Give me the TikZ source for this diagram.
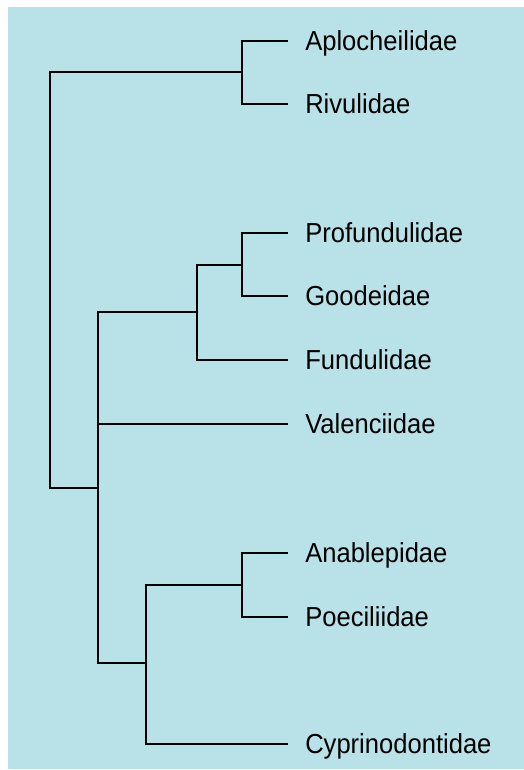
\documentclass[tikz,border=0pt]{standalone}
\usepackage{xcolor}
\usepackage{fontspec}
\setmainfont[FakeStretch=0.93]{Liberation Sans}
\definecolor{panelblue}{RGB}{184,226,231}
\usetikzlibrary{calc}

\begin{document}
\begin{tikzpicture}[x=1pt,y=-1pt,line width=2.5pt,line cap=rect,
    family/.style={anchor=west,inner xsep=17pt,inner ysep=0pt,text height=19.5pt,text depth=0pt,
      font=\fontsize{27.5}{30}\selectfont}]
    \useasboundingbox (0,0) rectangle (524,770);
    \fill[panelblue] (8,7) rectangle (524,769);

    \node[family] (aplocheilidae) at (287, 41) {Aplocheilidae};
    \node[family] (rivulidae) at (287, 104) {Rivulidae};
    \node[family] (profundulidae) at (287, 233) {Profundulidae};
    \node[family] (goodeidae) at (287, 296) {Goodeidae};
    \node[family] (fundulidae) at (287, 360) {Fundulidae};
    \node[family] (valenciidae) at (287, 424) {Valenciidae};
    \node[family] (anablepidae) at (287, 553) {Anablepidae};
    \node[family] (poeciliidae) at (287, 617) {Poeciliidae};
    \node[family] (cyprinodontidae) at (287, 744) {Cyprinodontidae};

    \coordinate (root) at (50, 280);
    \coordinate (aplo_rivu) at (242, 72);
    \coordinate (rest) at (98, 488);
    \coordinate (prof_good_fund) at (197, 312);
    \coordinate (prof_good) at (242, 265);
    \coordinate (anab_poec_cypr) at (146, 663);
    \coordinate (anab_poec) at (242, 585);

    \draw (root) |- (aplo_rivu);
    \draw (root) |- (rest);
    \draw (aplo_rivu) |- (aplocheilidae);
    \draw (aplo_rivu) |- (rivulidae);
    \draw (rest) |- (prof_good_fund);
    \draw (rest) |- (valenciidae);
    \draw (rest) |- (anab_poec_cypr);
    \draw (prof_good_fund) |- (prof_good);
    \draw (prof_good_fund) |- (fundulidae);
    \draw (prof_good) |- (profundulidae);
    \draw (prof_good) |- (goodeidae);
    \draw (anab_poec_cypr) |- (anab_poec);
    \draw (anab_poec_cypr) |- (cyprinodontidae);
    \draw (anab_poec) |- (anablepidae);
    \draw (anab_poec) |- (poeciliidae);

  \end{tikzpicture}
\end{document}
